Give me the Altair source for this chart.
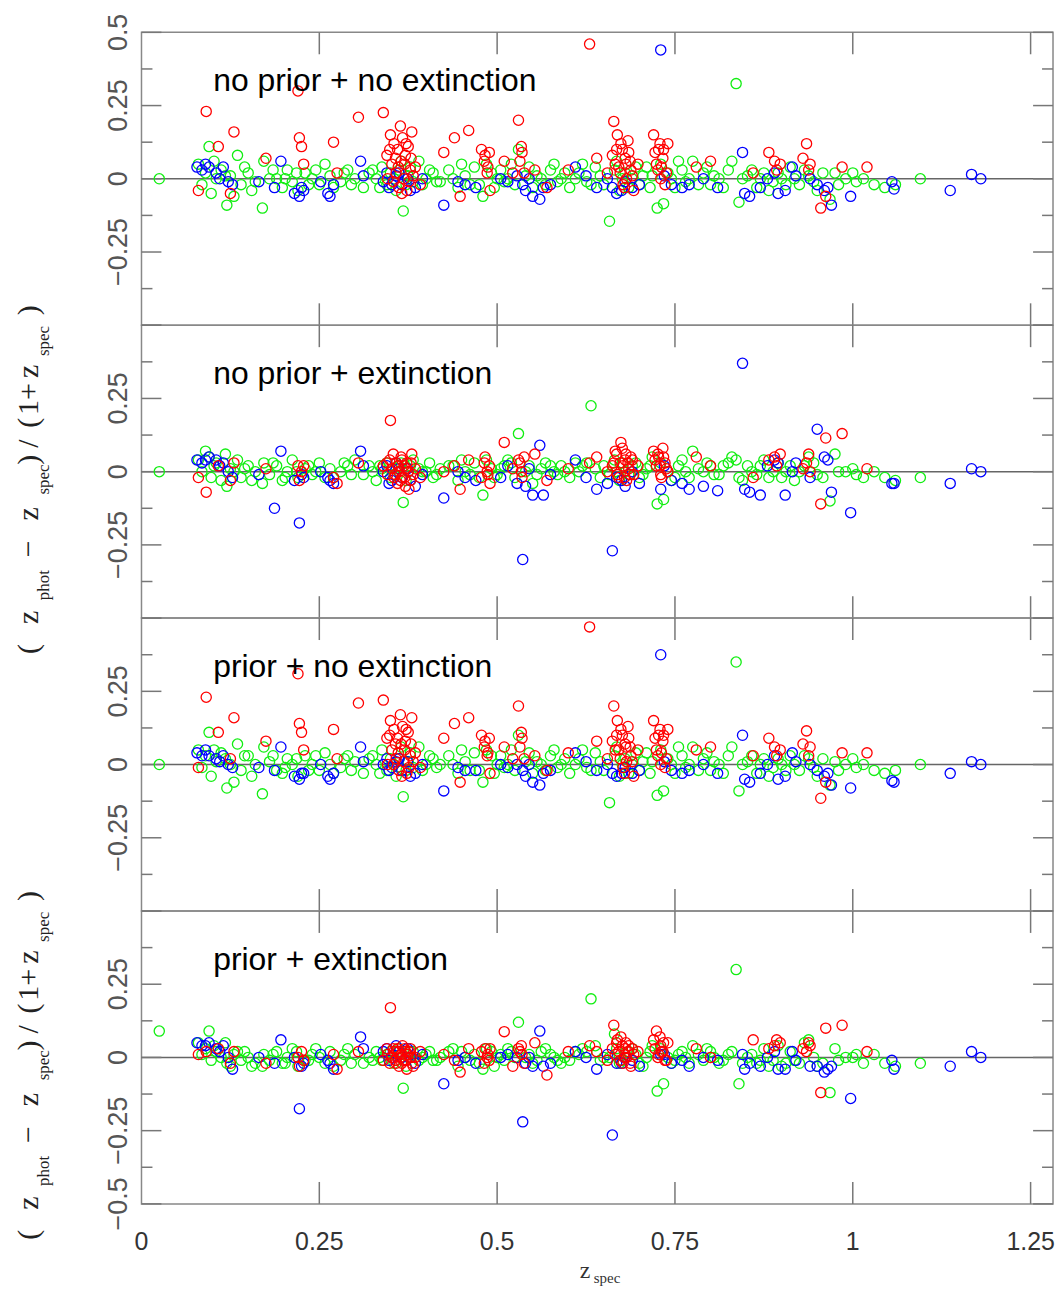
import altair as alt
import pandas as pd

# ---------------- data: (z_spec, dz panel1, dz panel2, dz panel3, dz panel4) ----------------
RED = [
    (0.080, -0.04, -0.02, -0.01, 0.01), (0.091, 0.23, -0.07, 0.23, 0.02), (0.108, 0.11, 0.02, 0.11, 0.03),
    (0.125, -0.05, -0.03, 0.02, -0.02), (0.130, 0.16, 0.03, 0.16, 0.02), (0.175, 0.07, 0.01, 0.08, -0.02),
    (0.220, 0.30, 0.02, 0.31, 0.00), (0.222, 0.14, -0.03, 0.14, -0.03), (0.225, 0.11, 0.00, 0.11, 0.02),
    (0.228, 0.05, 0.02, 0.05, -0.01), (0.270, 0.125, -0.02, 0.12, 0.01), (0.275, 0.02, -0.04, 0.02, -0.04),
    (0.305, 0.21, 0.03, 0.21, 0.02), (0.340, 0.226, 0.02, 0.22, -0.01), (0.345, 0.08, 0.03, 0.09, 0.03),
    (0.350, 0.15, 0.175, 0.15, 0.17), (0.352, 0.05, 0.01, 0.05, 0.00), (0.355, 0.12, -0.02, 0.12, 0.02),
    (0.358, 0.02, 0.03, 0.02, -0.02), (0.360, 0.10, -0.04, 0.09, 0.03), (0.362, -0.03, 0.00, -0.02, -0.03),
    (0.365, 0.06, 0.05, 0.07, 0.01), (0.367, 0.14, -0.02, 0.13, 0.04), (0.369, 0.00, 0.02, 0.01, -0.01),
    (0.371, 0.08, -0.05, 0.08, 0.02), (0.373, -0.04, 0.03, -0.03, -0.04), (0.375, 0.11, 0.00, 0.11, 0.01),
    (0.378, 0.03, -0.03, 0.03, 0.03), (0.380, 0.16, 0.06, 0.16, -0.02), (0.385, 0.04, 0.01, 0.04, 0.00),
    (0.392, -0.02, -0.02, -0.01, 0.02), (0.425, 0.09, 0.00, 0.09, 0.01), (0.440, 0.14, 0.02, 0.14, -0.01),
    (0.448, -0.06, -0.06, -0.06, -0.05), (0.460, 0.165, 0.04, 0.16, 0.03), (0.478, 0.10, -0.02, 0.10, 0.02),
    (0.482, 0.06, 0.03, 0.06, -0.02), (0.486, 0.02, 0.00, 0.03, 0.00), (0.490, -0.04, -0.04, -0.03, 0.03),
    (0.510, 0.06, 0.10, 0.06, 0.088), (0.522, 0.02, 0.01, 0.02, -0.03), (0.530, 0.20, 0.04, 0.20, 0.03),
    (0.535, 0.09, -0.02, 0.09, 0.01), (0.553, 0.03, 0.06, 0.03, 0.05), (0.570, -0.03, -0.03, -0.02, -0.06),
    (0.600, 0.03, 0.01, 0.04, 0.02), (0.630, 0.46, 0.03, 0.47, 0.04), (0.640, 0.07, 0.05, 0.08, 0.02),
    (0.655, 0.02, 0.00, 0.02, -0.01), (0.664, 0.196, 0.03, 0.20, 0.11), (0.668, 0.10, 0.06, 0.10, 0.05),
    (0.671, 0.04, -0.02, 0.05, 0.02), (0.674, 0.12, 0.10, 0.12, 0.07), (0.677, -0.02, 0.02, -0.01, -0.02),
    (0.680, 0.07, 0.04, 0.07, 0.03), (0.682, 0.00, -0.03, 0.01, 0.00), (0.685, 0.09, 0.01, 0.09, 0.04),
    (0.688, 0.03, 0.05, 0.03, -0.03), (0.692, -0.04, -0.01, -0.04, 0.01), (0.698, 0.05, 0.02, 0.05, 0.02),
    (0.720, 0.15, 0.07, 0.15, 0.06), (0.724, 0.05, 0.02, 0.05, 0.09), (0.727, 0.10, 0.05, 0.10, 0.01),
    (0.730, 0.00, -0.01, 0.00, 0.04), (0.733, 0.07, 0.08, 0.08, 0.02), (0.736, -0.02, 0.03, -0.01, -0.01),
    (0.740, 0.12, 0.00, 0.12, 0.05), (0.780, 0.04, 0.05, 0.05, 0.03), (0.800, 0.06, 0.02, 0.06, 0.00),
    (0.860, 0.02, -0.02, 0.03, 0.06), (0.882, 0.09, 0.04, 0.09, 0.03), (0.898, 0.05, 0.06, 0.05, 0.05),
    (0.935, 0.12, 0.03, 0.115, 0.02), (0.940, 0.05, 0.00, 0.06, 0.04), (0.955, -0.10, -0.11, -0.115, -0.12),
    (0.962, -0.06, 0.115, -0.06, 0.10), (0.985, 0.04, 0.13, 0.04, 0.11), (1.020, 0.04, 0.01, 0.04, 0.02),
    (0.346, 0.00, -0.01, 0.00, 0.01), (0.349, 0.10, 0.04, 0.10, -0.02), (0.354, -0.01, 0.06, 0.00, 0.03),
    (0.357, 0.07, -0.01, 0.07, -0.01), (0.361, 0.04, 0.02, 0.04, 0.02), (0.364, 0.18, -0.03, 0.17, 0.00),
    (0.366, -0.05, 0.04, -0.04, -0.02), (0.370, 0.05, -0.02, 0.05, 0.03), (0.372, 0.12, 0.01, 0.12, -0.01),
    (0.376, -0.01, -0.06, -0.01, 0.02), (0.379, 0.07, 0.03, 0.07, 0.00), (0.382, 0.01, -0.01, 0.01, -0.03),
    (0.483, 0.08, 0.05, 0.08, 0.03), (0.487, 0.04, -0.01, 0.04, 0.01), (0.489, 0.09, 0.02, 0.09, -0.01),
    (0.532, 0.06, 0.03, 0.06, 0.02), (0.534, 0.11, 0.00, 0.11, 0.04), (0.538, 0.02, 0.05, 0.02, -0.02),
    (0.662, 0.08, 0.02, 0.08, 0.03), (0.666, 0.05, 0.07, 0.05, 0.01), (0.669, 0.15, -0.01, 0.15, 0.06),
    (0.673, 0.02, 0.03, 0.02, -0.01), (0.676, 0.10, 0.08, 0.10, 0.04), (0.679, -0.03, -0.02, -0.03, 0.00),
    (0.681, 0.05, 0.06, 0.06, 0.05), (0.684, 0.13, 0.03, 0.13, 0.02), (0.687, 0.06, -0.01, 0.06, -0.02),
    (0.690, 0.01, 0.04, 0.01, 0.03), (0.722, 0.09, 0.04, 0.09, 0.03), (0.726, 0.03, 0.06, 0.03, 0.00),
    (0.729, 0.12, 0.02, 0.12, 0.07), (0.731, 0.04, -0.02, 0.04, 0.02), (0.734, 0.10, 0.05, 0.10, 0.05),
    (0.738, 0.02, 0.01, 0.02, -0.01), (0.890, 0.06, 0.05, 0.06, 0.04), (0.893, 0.03, 0.02, 0.03, 0.06),
    (0.930, 0.07, 0.01, 0.07, 0.03), (0.938, 0.03, 0.06, 0.03, 0.05),
]

GREEN = [
    (0.025, 0.00, 0.00, 0.00, 0.09), (0.080, 0.05, 0.04, 0.05, 0.05), (0.090, 0.02, 0.07, 0.03, 0.03),
    (0.095, 0.11, 0.05, 0.11, 0.09), (0.098, -0.05, -0.02, -0.04, -0.01), (0.105, 0.00, 0.03, 0.01, 0.02),
    (0.112, 0.03, -0.03, 0.04, 0.00), (0.120, -0.09, -0.05, -0.08, -0.02), (0.125, 0.01, 0.01, 0.00, -0.03),
    (0.130, -0.06, 0.00, -0.06, 0.01), (0.135, 0.08, 0.04, 0.07, 0.02), (0.140, -0.02, -0.02, -0.02, -0.01),
    (0.150, 0.02, 0.02, 0.03, 0.00), (0.160, -0.01, 0.00, 0.00, -0.02), (0.170, -0.10, -0.04, -0.10, -0.03),
    (0.172, 0.06, 0.03, 0.06, 0.01), (0.180, 0.00, -0.01, 0.01, -0.01), (0.190, 0.00, 0.02, -0.02, 0.02),
    (0.198, -0.03, -0.03, -0.03, -0.02), (0.205, 0.03, 0.00, 0.02, 0.00), (0.212, -0.01, 0.04, 0.00, 0.03),
    (0.220, -0.04, -0.02, -0.04, -0.03), (0.230, 0.02, 0.01, 0.03, -0.01), (0.240, 0.00, -0.01, 0.00, 0.01),
    (0.250, -0.02, 0.03, -0.02, 0.00), (0.258, 0.05, -0.02, 0.04, -0.02), (0.265, 0.01, 0.01, 0.00, 0.02),
    (0.280, -0.01, 0.00, -0.01, -0.01), (0.290, 0.03, 0.02, 0.03, 0.03), (0.300, 0.00, 0.04, 0.01, 0.01),
    (0.312, -0.03, -0.01, -0.03, -0.02), (0.320, 0.02, 0.02, 0.02, 0.00), (0.330, 0.00, -0.03, 0.00, 0.02),
    (0.338, 0.04, 0.01, 0.05, -0.01), (0.345, -0.02, 0.03, -0.02, 0.01), (0.355, 0.00, -0.01, 0.00, -0.02),
    (0.362, 0.03, 0.02, 0.02, 0.03), (0.368, -0.11, -0.105, -0.11, -0.105), (0.375, 0.01, 0.00, 0.01, 0.00),
    (0.382, -0.01, 0.04, -0.01, 0.02), (0.390, 0.06, 0.01, 0.06, -0.01), (0.400, 0.00, 0.00, 0.00, 0.01),
    (0.410, 0.02, -0.02, 0.02, -0.01), (0.420, -0.01, 0.01, 0.00, 0.00), (0.432, 0.03, 0.02, 0.03, 0.02),
    (0.445, -0.03, -0.03, -0.03, -0.03), (0.455, 0.01, 0.00, 0.01, 0.00), (0.468, 0.04, 0.03, 0.04, 0.01),
    (0.475, -0.02, -0.02, -0.02, -0.02), (0.480, -0.06, -0.08, -0.06, -0.04), (0.492, 0.02, 0.01, 0.03, 0.02),
    (0.500, 0.00, -0.01, 0.00, 0.00), (0.510, -0.01, 0.02, -0.01, -0.01), (0.520, 0.05, 0.03, 0.05, 0.02),
    (0.530, 0.10, 0.13, 0.10, 0.12), (0.540, 0.01, 0.00, 0.01, 0.00), (0.550, -0.03, -0.04, -0.03, -0.02),
    (0.562, 0.00, 0.01, 0.00, 0.02), (0.575, 0.03, 0.02, 0.03, 0.01), (0.585, -0.01, -0.01, -0.01, -0.01),
    (0.595, 0.02, 0.00, 0.02, 0.00), (0.610, 0.00, 0.03, 0.00, 0.02), (0.620, 0.05, 0.02, 0.05, 0.03),
    (0.632, -0.02, 0.225, -0.02, 0.20), (0.645, 0.01, -0.02, 0.01, -0.01), (0.658, -0.145, -0.01, -0.13, 0.00),
    (0.665, 0.03, 0.04, 0.03, 0.08), (0.672, -0.04, -0.03, -0.04, -0.02), (0.680, 0.02, 0.00, 0.02, 0.01),
    (0.690, 0.00, 0.02, 0.00, 0.03), (0.700, -0.02, -0.02, -0.02, -0.02), (0.710, 0.04, 0.01, 0.04, 0.00),
    (0.718, 0.01, 0.05, 0.01, 0.04), (0.725, -0.10, -0.11, -0.105, -0.115), (0.734, -0.085, -0.095, -0.09, -0.09),
    (0.745, 0.00, -0.03, 0.00, -0.02), (0.755, 0.06, 0.02, 0.06, 0.01), (0.765, -0.01, 0.00, -0.01, 0.00),
    (0.775, 0.06, 0.07, 0.06, 0.04), (0.790, 0.02, 0.00, 0.02, -0.01), (0.800, -0.02, 0.02, -0.02, 0.02),
    (0.812, 0.00, -0.01, 0.00, -0.02), (0.825, 0.03, 0.03, 0.03, 0.01), (0.836, 0.325, 0.04, 0.35, 0.30),
    (0.840, -0.08, -0.02, -0.09, -0.09), (0.852, 0.01, 0.02, 0.01, 0.00), (0.865, -0.03, -0.01, -0.03, -0.02),
    (0.875, 0.02, 0.04, 0.02, 0.03), (0.888, -0.01, 0.00, -0.01, -0.01), (0.900, 0.00, -0.02, 0.00, -0.03),
    (0.912, 0.04, 0.02, 0.03, 0.02), (0.925, -0.02, 0.00, -0.02, -0.02), (0.938, 0.01, 0.05, 0.02, 0.06),
    (0.950, -0.04, -0.01, -0.04, -0.03), (0.968, -0.07, -0.10, -0.07, -0.12), (0.975, 0.02, 0.06, 0.01, 0.03),
    (0.990, 0.00, 0.00, 0.00, 0.00), (1.005, -0.01, -0.01, -0.01, 0.01), (1.030, -0.02, 0.00, -0.02, 0.01),
    (1.045, -0.03, -0.02, -0.03, -0.02), (1.095, 0.00, -0.02, 0.00, -0.02),
    (0.085, -0.02, 0.00, -0.01, 0.01), (0.102, 0.06, 0.02, 0.05, 0.04), (0.118, 0.01, 0.06, 0.02, 0.05),
    (0.145, 0.04, 0.01, 0.03, 0.02), (0.155, -0.04, -0.03, -0.04, -0.03), (0.185, 0.03, 0.03, 0.03, 0.01),
    (0.202, 0.00, -0.02, -0.01, -0.02), (0.218, 0.02, 0.00, 0.02, 0.02), (0.235, -0.02, 0.02, -0.02, -0.01),
    (0.245, 0.03, 0.00, 0.03, 0.03), (0.270, -0.03, -0.02, -0.03, -0.03), (0.285, 0.02, 0.03, 0.02, 0.01),
    (0.295, -0.02, -0.01, -0.02, -0.02), (0.325, 0.03, 0.00, 0.03, -0.01), (0.335, -0.03, 0.02, -0.03, 0.00),
    (0.350, 0.02, -0.02, 0.02, 0.02), (0.358, -0.04, 0.01, -0.04, -0.01), (0.365, 0.06, 0.03, 0.06, 0.01),
    (0.372, -0.02, -0.03, -0.02, -0.03), (0.378, 0.04, 0.02, 0.04, 0.02), (0.395, -0.02, 0.00, -0.02, 0.00),
    (0.405, 0.03, 0.03, 0.03, 0.02), (0.415, -0.01, -0.01, -0.01, -0.01), (0.438, 0.00, 0.02, 0.00, 0.03),
    (0.450, 0.05, 0.04, 0.05, 0.02), (0.462, -0.02, -0.01, -0.02, -0.01), (0.485, 0.05, 0.04, 0.05, 0.03),
    (0.496, -0.03, -0.02, -0.03, -0.03), (0.505, 0.03, 0.01, 0.03, 0.01), (0.515, 0.00, 0.04, 0.00, 0.03),
    (0.525, -0.02, -0.02, -0.02, 0.00), (0.545, 0.04, 0.02, 0.04, 0.01), (0.556, 0.01, -0.01, 0.01, -0.01),
    (0.568, -0.02, 0.03, -0.02, 0.03), (0.580, 0.05, 0.00, 0.05, 0.00), (0.590, 0.00, 0.02, 0.00, -0.02),
    (0.602, -0.03, -0.02, -0.03, -0.01), (0.615, 0.02, 0.00, 0.02, 0.01), (0.626, -0.01, 0.03, -0.01, 0.02),
    (0.638, 0.04, 0.01, 0.04, 0.04), (0.650, -0.02, 0.02, -0.02, 0.00), (0.668, 0.06, 0.00, 0.06, 0.03),
    (0.676, 0.00, 0.03, 0.00, -0.01), (0.685, -0.03, -0.01, -0.03, 0.02), (0.695, 0.04, 0.03, 0.04, 0.01),
    (0.705, 0.01, -0.01, 0.01, -0.03), (0.715, -0.03, 0.02, -0.03, 0.02), (0.730, 0.05, 0.03, 0.05, 0.03),
    (0.740, 0.02, 0.00, 0.02, 0.00), (0.750, -0.03, -0.02, -0.03, -0.01), (0.760, 0.03, 0.04, 0.03, 0.02),
    (0.770, 0.00, -0.02, 0.00, -0.02), (0.783, -0.02, 0.01, -0.02, 0.01), (0.795, 0.04, 0.03, 0.04, 0.03),
    (0.805, 0.01, -0.01, 0.01, 0.00), (0.818, -0.03, 0.02, -0.03, -0.01), (0.830, 0.06, 0.05, 0.06, 0.02),
    (0.845, 0.00, -0.03, 0.00, -0.02), (0.858, 0.03, 0.00, 0.03, 0.01), (0.870, 0.00, 0.02, 0.00, -0.01),
    (0.882, -0.04, -0.02, -0.04, -0.03), (0.895, 0.02, 0.03, 0.02, 0.04), (0.906, -0.02, 0.00, -0.02, -0.02),
    (0.918, 0.00, -0.03, 0.00, -0.01), (0.932, 0.03, 0.02, 0.03, 0.05), (0.945, -0.01, 0.03, -0.01, 0.00),
    (0.958, 0.02, -0.02, 0.02, -0.02), (0.980, -0.02, 0.00, -0.02, -0.01), (1.000, 0.02, 0.01, 0.02, 0.00),
    (1.015, 0.00, -0.02, 0.00, -0.02), (1.060, -0.02, -0.03, -0.02, -0.03),
]

BLUE = [
    (0.078, 0.04, 0.04, 0.04, 0.05), (0.085, 0.03, 0.03, 0.03, 0.04), (0.095, 0.04, 0.05, 0.03, 0.05),
    (0.105, 0.02, 0.04, 0.02, 0.03), (0.115, 0.04, 0.03, 0.03, 0.04), (0.122, -0.01, 0.00, 0.00, 0.00),
    (0.128, -0.02, -0.02, -0.01, -0.04), (0.165, -0.01, -0.01, -0.01, 0.00), (0.187, -0.03, -0.125, -0.02, -0.02),
    (0.196, 0.06, 0.07, 0.06, 0.06), (0.215, -0.05, -0.03, -0.04, 0.00), (0.222, -0.06, -0.175, -0.05, -0.175),
    (0.228, -0.04, -0.02, -0.03, -0.02), (0.252, -0.01, 0.00, 0.00, 0.01), (0.262, -0.05, -0.02, -0.04, -0.01),
    (0.270, -0.02, -0.04, -0.03, -0.04), (0.308, 0.06, 0.07, 0.06, 0.07), (0.312, 0.01, 0.02, 0.01, 0.03),
    (0.340, -0.01, 0.00, 0.00, 0.02), (0.348, -0.03, -0.04, -0.02, -0.01), (0.358, 0.01, 0.03, 0.01, 0.04),
    (0.366, -0.02, -0.02, -0.02, 0.00), (0.374, 0.00, 0.01, 0.01, 0.03), (0.385, -0.03, -0.05, -0.03, -0.02),
    (0.395, 0.00, -0.01, 0.00, 0.01), (0.425, -0.09, -0.09, -0.09, -0.09), (0.445, -0.01, 0.00, -0.01, -0.01),
    (0.470, -0.03, -0.03, -0.02, -0.02), (0.505, 0.00, -0.02, 0.00, 0.00), (0.515, -0.01, 0.02, -0.01, 0.01),
    (0.528, 0.01, -0.04, 0.00, 0.00), (0.536, -0.02, -0.30, -0.02, -0.22), (0.550, -0.06, -0.08, -0.06, -0.03),
    (0.560, -0.07, 0.09, -0.07, 0.09), (0.575, -0.02, -0.01, -0.02, -0.02), (0.610, 0.04, 0.04, 0.04, 0.02),
    (0.625, 0.01, -0.02, 0.01, 0.00), (0.640, -0.03, -0.06, -0.02, -0.04), (0.662, -0.03, -0.27, -0.03, -0.265),
    (0.675, -0.04, -0.03, -0.03, -0.02), (0.700, -0.02, -0.04, -0.02, -0.03), (0.730, 0.44, -0.06, 0.375, 0.01),
    (0.745, -0.02, -0.03, -0.02, -0.02), (0.770, -0.02, -0.06, -0.02, -0.03), (0.790, 0.00, -0.05, 0.00, 0.00),
    (0.810, -0.03, -0.065, -0.03, -0.01), (0.845, 0.09, 0.37, 0.10, 0.01), (0.848, -0.05, -0.06, -0.05, -0.04),
    (0.870, -0.03, -0.08, -0.03, -0.03), (0.890, 0.02, 0.04, 0.03, 0.02), (0.905, -0.04, -0.08, -0.04, -0.04),
    (0.920, 0.01, 0.03, 0.01, -0.01), (0.950, -0.02, 0.145, -0.02, -0.03), (0.965, -0.03, 0.04, -0.03, -0.04),
    (0.970, -0.09, -0.07, -0.07, -0.03), (0.997, -0.06, -0.14, -0.08, -0.14), (1.055, -0.01, -0.04, -0.055, -0.01),
    (1.058, -0.035, -0.04, -0.06, -0.04), (1.137, -0.04, -0.04, -0.03, -0.03), (1.167, 0.015, 0.01, 0.01, 0.02),
    (1.180, 0.00, 0.00, 0.00, 0.00),
    (0.090, 0.05, 0.04, 0.05, 0.04), (0.110, 0.00, 0.02, 0.01, 0.02), (0.225, -0.03, -0.01, -0.03, -0.03),
    (0.265, -0.06, -0.03, -0.05, -0.02), (0.345, 0.02, 0.02, 0.02, 0.03), (0.352, -0.02, -0.03, -0.01, 0.00),
    (0.362, 0.02, 0.01, 0.02, 0.02), (0.378, -0.04, -0.03, -0.04, 0.00), (0.455, -0.02, -0.02, -0.02, 0.00),
    (0.540, -0.04, -0.05, -0.04, -0.02), (0.545, 0.00, 0.01, 0.00, 0.00), (0.565, -0.03, -0.08, -0.03, -0.03),
    (0.655, 0.00, -0.04, 0.00, 0.01), (0.668, -0.05, -0.02, -0.04, -0.02), (0.680, -0.01, -0.05, -0.01, 0.00),
    (0.690, -0.03, 0.00, -0.03, -0.01), (0.735, 0.01, 0.02, 0.01, 0.01), (0.760, -0.03, -0.04, -0.03, -0.01),
    (0.855, -0.06, -0.07, -0.06, -0.02), (0.880, 0.00, 0.02, 0.00, 0.00), (0.895, -0.05, 0.03, -0.05, -0.04),
    (0.915, 0.04, 0.00, 0.04, 0.02), (0.940, 0.00, -0.02, 0.00, -0.03), (0.960, -0.04, 0.05, -0.04, -0.05),
]

PANEL_LABELS = ["no prior + no extinction", "no prior + extinction",
                "prior + no extinction", "prior + extinction"]
Y_LABEL_VALUES = [[0.5, 0.25, 0, -0.25], [0.25, 0, -0.25], [0.25, 0, -0.25], [0.25, 0, -0.25, -0.5]]
X_LABEL_VALUES = [0, 0.25, 0.5, 0.75, 1, 1.25]
Y_MAJOR = [-0.5, -0.25, 0, 0.25, 0.5]
Y_MINOR = [-0.375, -0.125, 0.125, 0.375]
X_MAJOR = [0.25, 0.5, 0.75, 1.0, 1.25]

# ---------------- layout / style ----------------
W, H = 915, 294
XMAX = W / 714.0
TYPES = ["green", "blue", "red"]
COLORS = ["#11ee11", "#0000ff", "#ff0000"]
TICK_COLOR = "#777777"
LABEL_FONT = "Liberation Sans"
SERIF = "Liberation Serif"

# y-title pieces: (text, start y in panel px, is_subscript)
YTITLE = [("(", 330, False), ("z", 300, False), ("phot", 276, True), ("\u2212", 233, False),
          ("z", 196, False), ("spec", 170, True), (")", 140, False), ("/", 123, False),
          ("(", 103, False), ("1", 90, False), ("+", 75, False), ("z", 53, False),
          ("spec", 31, True), (")", -10, False)]

xs = alt.Scale(domain=[0, XMAX], nice=False, zero=False)
ys = alt.Scale(domain=[-0.5, 0.5], nice=False, zero=False)
one = alt.Data(values=[{"a": 1}])


def fmt(v):
    return f"{v:g}".replace("-", "\u2212")


def panel_df(p):
    rows = []
    for name, lst in zip(TYPES, [GREEN, BLUE, RED]):
        for r in lst:
            rows.append({"z": r[0], "dz": r[p + 1], "type": name})
    return pd.DataFrame(rows)


def make_panel(p):
    zero = alt.Chart(pd.DataFrame({"v": [0]})).mark_rule(color="#666666", strokeWidth=1.5).encode(
        y=alt.Y("v:Q", scale=ys, axis=None))

    layers = [zero]
    for vals, length in [(Y_MAJOR, 20), (Y_MINOR, 11)]:
        d = pd.DataFrame({"v": vals})
        layers.append(alt.Chart(d).mark_rule(color=TICK_COLOR, strokeWidth=1.5).encode(
            y=alt.Y("v:Q", scale=ys, axis=None), x=alt.value(0), x2=alt.value(length)))
        layers.append(alt.Chart(d).mark_rule(color=TICK_COLOR, strokeWidth=1.5).encode(
            y=alt.Y("v:Q", scale=ys, axis=None), x=alt.value(W - length), x2=alt.value(W)))
    dx = pd.DataFrame({"v": X_MAJOR})
    layers.append(alt.Chart(dx).mark_rule(color=TICK_COLOR, strokeWidth=1.5).encode(
        x=alt.X("v:Q", scale=xs, axis=None), y=alt.value(0), y2=alt.value(22)))
    layers.append(alt.Chart(dx).mark_rule(color=TICK_COLOR, strokeWidth=1.5).encode(
        x=alt.X("v:Q", scale=xs, axis=None), y=alt.value(H - 22), y2=alt.value(H)))

    # y tick labels (rotated, reading upward)
    yl = pd.DataFrame({"v": Y_LABEL_VALUES[p], "t": [fmt(v) for v in Y_LABEL_VALUES[p]]})
    layers.append(alt.Chart(yl).mark_text(angle=270, align="center", baseline="alphabetic",
                                          fontSize=27, font=LABEL_FONT, color="#555555").encode(
        y=alt.Y("v:Q", scale=ys, axis=None), x=alt.value(-15), text="t:N"))

    pts = alt.Chart(panel_df(p)).mark_point(shape="circle", filled=False, size=105, strokeWidth=1.3,
                                            opacity=1).encode(
        x=alt.X("z:Q", scale=xs, axis=None),
        y=alt.Y("dz:Q", scale=ys, axis=None),
        color=alt.Color("type:N", scale=alt.Scale(domain=TYPES, range=COLORS), legend=None),
    )
    layers.append(pts)

    label = alt.Chart(pd.DataFrame({"label": [PANEL_LABELS[p]]})).mark_text(
        align="left", baseline="middle", fontSize=32, font=LABEL_FONT, color="black").encode(
        x=alt.value(72), y=alt.value(49), text="label:N")
    layers.append(label)

    if p in (1, 3):
        for txt, pos, sub in YTITLE:
            layers.append(alt.Chart(one).mark_text(
                angle=270, align="left", baseline="alphabetic", font=SERIF,
                fontSize=17 if sub else 30, color="#222222").encode(
                x=alt.value(-93 if sub else -104), y=alt.value(pos), text=alt.value(txt)))
    if p == 3:
        xl = pd.DataFrame({"v": X_LABEL_VALUES, "t": [fmt(v) for v in X_LABEL_VALUES]})
        layers.append(alt.Chart(xl).mark_text(align="center", baseline="top", fontSize=25,
                                              font=LABEL_FONT, color="#333333").encode(
            x=alt.X("v:Q", scale=xs, axis=None), y=alt.value(H + 26), text="t:N"))
        layers.append(alt.Chart(one).mark_text(align="left", baseline="alphabetic", font=SERIF,
                                               fontSize=24, color="#333333").encode(
            x=alt.value(440), y=alt.value(H + 74), text=alt.value("z")))
        layers.append(alt.Chart(one).mark_text(align="left", baseline="alphabetic", font=SERIF,
                                               fontSize=15, color="#333333").encode(
            x=alt.value(454), y=alt.value(H + 79), text=alt.value("spec")))

    return alt.layer(*layers).properties(width=W, height=H)


chart = alt.vconcat(*[make_panel(p) for p in range(4)], spacing=0, bounds="flush").configure_view(
    stroke="#888888", strokeWidth=1.5).properties(
    padding={"left": 5, "top": 2, "right": 0, "bottom": 0})

chart.save("out.html", embed_options={"renderer": "svg", "actions": False})
